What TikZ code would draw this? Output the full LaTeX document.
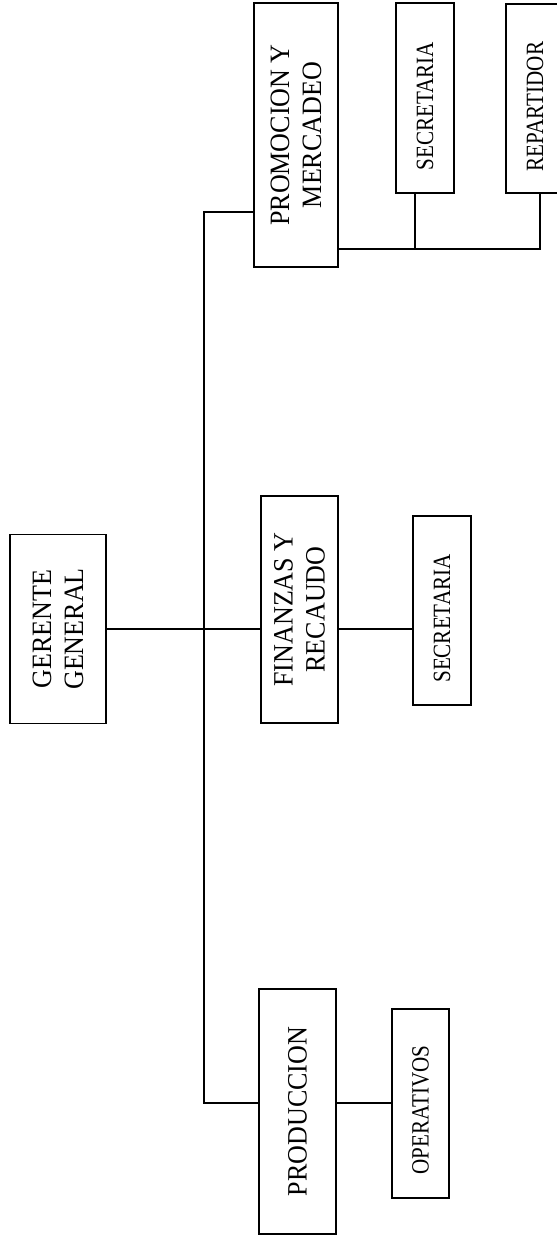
\documentclass[tikz,border=0pt]{standalone}
\usepackage{fontspec}
\setmainfont{Liberation Serif}
\newfontfamily\bigfam[FakeStretch=0.93]{Liberation Serif}
\newfontfamily\smallfam[FakeStretch=0.85]{Liberation Serif}
\newcommand{\bigtxt}{\bigfam\fontsize{21}{24}\selectfont}
\newcommand{\smalltxt}{\smallfam\fontsize{18.6}{20}\selectfont}

\begin{document}
\begin{tikzpicture}[x=0.75pt,y=-0.75pt,line width=1.1pt,
   cargo/.style={draw,rotate=90,inner sep=0pt,align=center,font=\bigtxt},
   aux/.style={cargo,font=\smalltxt},
   boxsize/.style 2 args={minimum width=#1*0.75pt,minimum height=#2*0.75pt}]
   \useasboundingbox (0,0) rectangle (557,1240);
   % cargos
   \node[cargo,boxsize={189}{96}] (gg) at (58,629) {GERENTE\\GENERAL};
   \node[cargo,boxsize={264}{84}] (prom) at (296,135) {PROMOCION Y\\MERCADEO};
   \node[cargo,boxsize={227}{77}] (fin) at (299.5,609.5) {FINANZAS Y\\RECAUDO};
   \node[cargo,boxsize={245}{77}] (prod) at (297.5,1111.5) {PRODUCCION};
   \node[aux,boxsize={190}{58}] (sec2) at (425,98) {SECRETARIA\hspace*{12pt}};
   \node[aux,boxsize={189}{58}] (rep) at (535,98.5) {REPARTIDOR\hspace*{12pt}};
   \node[aux,boxsize={189}{58}] (sec1) at (442,610.5) {SECRETARIA\hspace*{12pt}};
   \node[aux,boxsize={189}{57}] (oper) at (420.5,1103.5) {OPERATIVOS\hspace*{10pt}};
   % lineas
   \coordinate (ttop) at (204,212);
   \coordinate (tbot) at (204,1103);
   \coordinate (pbus) at (540,249);
   \coordinate (sjoin) at (415,249);
   \draw (prom.north |- ttop) -- (ttop) -- (tbot) -- (tbot -| prod.north);
   \draw (gg.south) -- (gg.south -| fin.north);
   \draw (fin.south |- gg.south) -- (sec1.north |- gg.south);
   \draw (prod.south |- tbot) -- (tbot -| oper.north);
   \draw (pbus -| prom.south) -- (pbus) -- (pbus |- rep.west);
   \draw (sjoin) -- (sjoin |- sec2.west);
\end{tikzpicture}
\end{document}
